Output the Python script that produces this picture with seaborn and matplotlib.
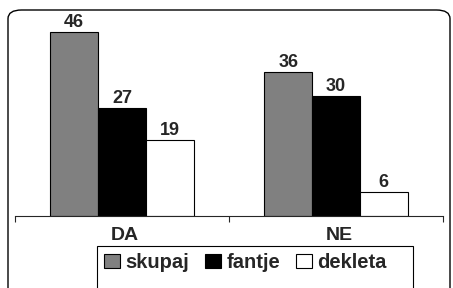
import matplotlib
matplotlib.use("Agg")
import matplotlib.pyplot as plt
import matplotlib.transforms as mtransforms
import seaborn as sns
import pandas as pd
from matplotlib.patches import FancyBboxPatch, Rectangle

# Datos del gráfico
odgovori = ["DA", "NE"]
skupine = ["skupaj", "fantje", "dekleta"]
skupaj = [46, 36]
fantje = [27, 30]
dekleta = [19, 6]

df = pd.DataFrame({
    "odgovor": odgovori * 3,
    "skupina": ["skupaj"] * 2 + ["fantje"] * 2 + ["dekleta"] * 2,
    "vrednost": skupaj + fantje + dekleta,
})

sns.set_style("white")
plt.rcParams["font.family"] = ["Liberation Sans", "DejaVu Sans"]
plt.rcParams["font.weight"] = "bold"

fig = plt.figure(figsize=(4.53, 2.88), dpi=100)
ax = fig.add_axes([15 / 453, 72 / 288, 428 / 453, 200 / 288])

sns.barplot(data=df, x="odgovor", y="vrednost", hue="skupina", hue_order=skupine,
            palette=["#808080", "#000000", "#ffffff"], edgecolor="black",
            linewidth=0.8, width=0.67, ax=ax)

for c in ax.containers:
    ax.bar_label(c, padding=1, fontsize=13, fontweight="bold")

ax.set_ylim(0, 50)
ax.set_xlim(-0.5, 1.5)
ax.set_xlabel("")
ax.set_ylabel("")
ax.set_yticks([])
for s in ["top", "left", "right"]:
    ax.spines[s].set_visible(False)
ax.spines["bottom"].set_linewidth(0.8)
ax.set_xticks([0, 1], ["", ""])
ax.set_xticks([-0.5, 0.5, 1.5], minor=True)
ax.tick_params(axis="x", which="minor", direction="out", length=4, width=0.8, bottom=True)
ax.tick_params(axis="x", which="major", length=0)
ax.patch.set_alpha(0)

# Etiquetas de categoría
trans = mtransforms.blended_transform_factory(ax.transData, ax.transAxes)
for i, lab in enumerate(odgovori):
    ax.text(i + 0.015, -0.12, lab, transform=trans, ha="center", va="baseline",
            fontsize=14, fontweight="bold")

leg = ax.legend(loc="upper left", bbox_to_anchor=(98 / 453, 1 - 247 / 288),
                bbox_transform=fig.transFigure, ncol=3, frameon=False,
                prop={"size": 14.5, "weight": "bold"}, handlelength=0.8, handleheight=0.75,
                handletextpad=0.25, columnspacing=0.8, borderpad=0.3, borderaxespad=0)

# Marco de la leyenda (se corta por abajo como en el original)
fig.patches.append(Rectangle((97 / 453, -0.05), 316 / 453, 0.05 + 42 / 288,
                             transform=fig.transFigure, fill=False,
                             edgecolor="black", linewidth=0.8))

# Marco redondeado alrededor del gráfico
marco = FancyBboxPatch((8 / 453, -0.1), 442 / 453, 1.1 - 10 / 288,
                       boxstyle="round,pad=0,rounding_size=0.03",
                       transform=fig.transFigure, fill=False, edgecolor="black",
                       linewidth=1.0)
fig.patches.append(marco)

plt.savefig("out.png", dpi=100)
plt.close()
